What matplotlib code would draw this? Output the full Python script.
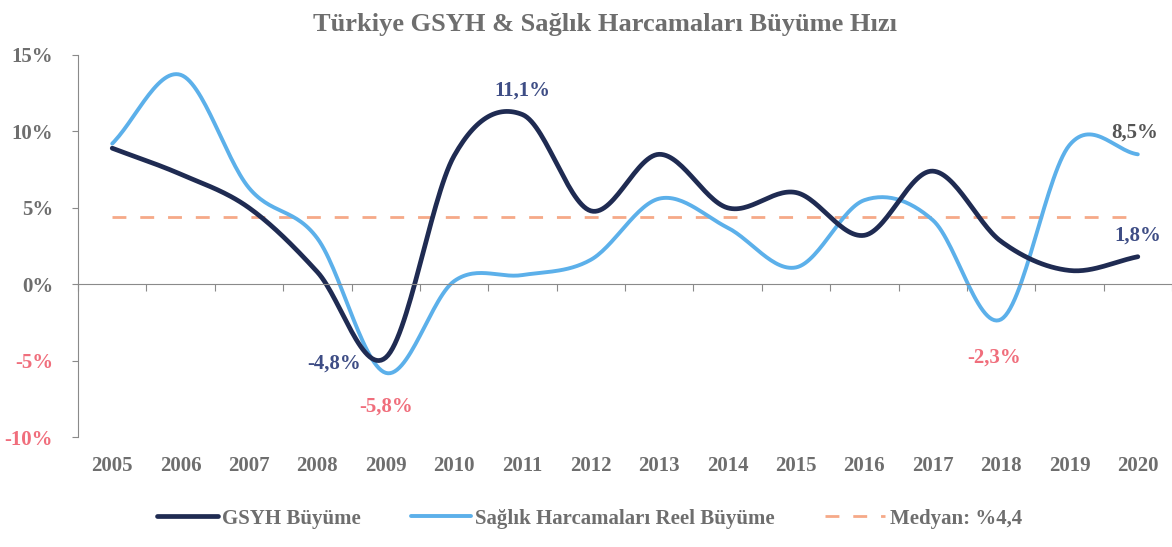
import numpy as np
import matplotlib.pyplot as plt
import matplotlib.transforms as mtransforms

years = ['2005', '2006', '2007', '2008', '2009', '2010', '2011', '2012',
         '2013', '2014', '2015', '2016', '2017', '2018', '2019', '2020']
gsyh = [8.9, 7.2, 5.0, 0.8, -4.8, 8.4, 11.1, 4.8, 8.5, 5.0, 6.0, 3.2, 7.4, 2.8, 0.9, 1.8]
saglik = [9.2, 13.7, 6.3, 3.0, -5.8, 0.2, 0.6, 1.6, 5.6, 3.7, 1.1, 5.5, 4.2, -2.3, 9.1, 8.5]
medyan = [4.4] * len(years)

# data labels: (text, year index, y, colour)
labels = [('11,1%', 6, 12.7, '#3e4d85'),
          ('-4,8%', 3.25, -5.2, '#3e4d85'),
          ('-5,8%', 4.0, -8.0, '#f06e7c'),
          ('-2,3%', 12.9, -4.8, '#f06e7c'),
          ('8,5%', 14.95, 9.9, '#555555'),
          ('1,8%', 15.0, 3.2, '#3e4d85')]

yticks = [-10, -5, 0, 5, 10, 15]
ytick_labels = ['-10%', '-5%', '0%', '5%', '10%', '15%']


def smooth(y, n=30):
    # catmull-rom curve through the points, like excel's smoothed line
    y = np.asarray(y, dtype=float)
    x = np.arange(len(y), dtype=float)
    px = np.concatenate([[2 * x[0] - x[1]], x, [2 * x[-1] - x[-2]]])
    py = np.concatenate([[2 * y[0] - y[1]], y, [2 * y[-1] - y[-2]]])
    xs, ys = [], []
    t = np.linspace(0, 1, n, endpoint=False)
    for i in range(1, len(px) - 2):
        for p, out in ((px, xs), (py, ys)):
            p0, p1, p2, p3 = p[i - 1], p[i], p[i + 1], p[i + 2]
            out.append(0.5 * (2 * p1 + (-p0 + p2) * t
                              + (2 * p0 - 5 * p1 + 4 * p2 - p3) * t ** 2
                              + (-p0 + 3 * p1 - 3 * p2 + p3) * t ** 3))
    xs.append([x[-1]])
    ys.append([y[-1]])
    return np.concatenate(xs), np.concatenate(ys)


plt.rcParams['font.family'] = ['Liberation Serif', 'DejaVu Serif']
grey = '#6e6e6e'

fig = plt.figure(figsize=(11.72, 5.47), dpi=100)
ax = fig.add_axes([0.0666, 0.201, 0.9334, 0.6985])

x = np.arange(len(years))
ax.plot(x, medyan, color='#f6a988', lw=2, dashes=(5, 5), label='Medyan: %4,4')
sx, sy = smooth(saglik)
ax.plot(sx, sy, color='#5cb0ea', lw=2.8, solid_capstyle='round',
        label='Sağlık Harcamaları Reel Büyüme')
gx, gy = smooth(gsyh)
ax.plot(gx, gy, color='#1f2b52', lw=3.4, solid_capstyle='round', label='GSYH Büyüme')

ax.set_xlim(-0.5, len(years) - 0.5)
ax.set_ylim(-10, 15)

ax.spines['top'].set_visible(False)
ax.spines['right'].set_visible(False)
ax.spines['bottom'].set_position(('data', 0))
ax.spines['bottom'].set_color('#8a8a8a')
ax.spines['left'].set_color('#8a8a8a')

ax.set_xticks(np.arange(len(years) + 1) - 0.5)
ax.set_xticklabels([])
ax.tick_params(axis='x', direction='out', length=5, color='#8a8a8a')
trans = mtransforms.blended_transform_factory(ax.transData, ax.transAxes)
for i, yr in enumerate(years):
    ax.text(i, -0.075, yr, transform=trans, ha='center', va='center',
            fontsize=15, fontweight='bold', color=grey)

ax.set_yticks(yticks)
ax.set_yticklabels(ytick_labels, fontsize=15, fontweight='bold')
ax.tick_params(axis='y', direction='out', length=4, color='#8a8a8a', pad=14)
for lab, v in zip(ax.get_yticklabels(), yticks):
    lab.set_color('#f06e7c' if v < 0 else grey)

for txt, xi, yi, c in labels:
    ax.text(xi, yi, txt, ha='center', va='center', fontsize=15,
            fontweight='bold', color=c)

fig.text(0.516, 0.955, 'Türkiye GSYH & Sağlık Harcamaları Büyüme Hızı',
         ha='center', va='center', fontsize=19, fontweight='bold', color=grey)

handles, names = ax.get_legend_handles_labels()
order = [2, 1, 0]
leg = fig.legend([handles[i] for i in order], [names[i] for i in order],
                 loc='center', bbox_to_anchor=(0.503, 0.052), ncol=3,
                 frameon=False, fontsize=15, handlelength=2.9,
                 columnspacing=2.4, handletextpad=0.2)
for t in leg.get_texts():
    t.set_color(grey)
    t.set_fontweight('bold')

fig.savefig('out.png', dpi=100)
